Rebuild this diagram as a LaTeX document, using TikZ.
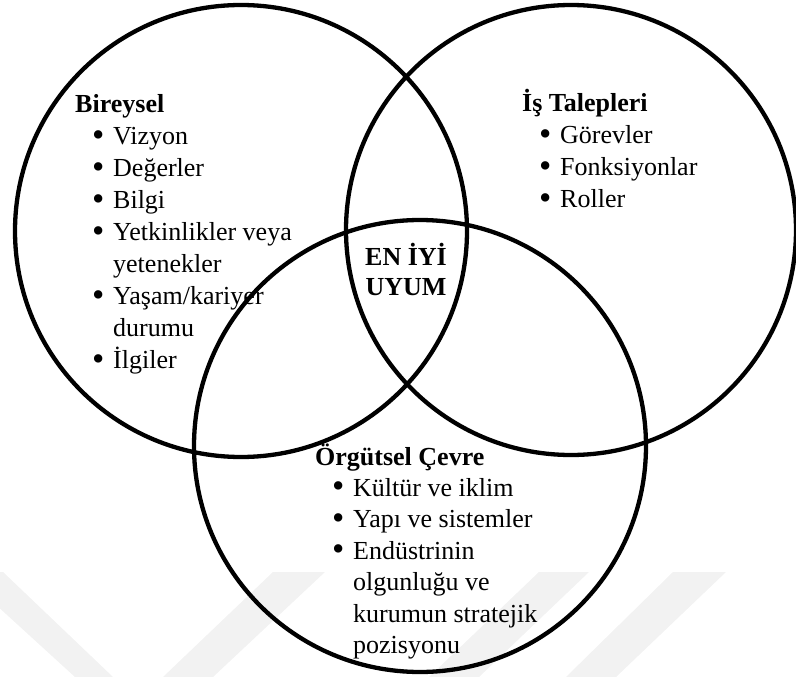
\documentclass[tikz,border=0pt]{standalone}
\usepackage{fontspec}
\setmainfont{Liberation Serif}
% bullet mark, bullet line and continuation line inside a text block
\newcommand\dotmark{\smash{\raisebox{-0.05em}{\scalebox{1.35}{\textbullet}}}}
\newcommand\bitem{\makebox[38pt][l]{\hspace*{17pt}\dotmark}}
\newcommand\bcont{\hspace*{38pt}}
\begin{document}
\begin{tikzpicture}[x=1pt,y=-1pt,
  ring/.style={line width=4.3pt},
  band/.style={fill=black!5,draw=none},
  block/.style={anchor=base west,inner sep=0pt,font=\fontsize{26}{32}\selectfont},
  core/.style={anchor=base,inner sep=0pt,font=\bfseries\fontsize{26}{30}\selectfont}]
\useasboundingbox (0,0) rectangle (796,677);

% faint background stripes
\fill[band] (-40,572) -- (3,572) -- (113,677) -- (75,677) -- cycle;
\fill[band] (273,572) -- (325,572) -- (213,677) -- (163,677) -- cycle;
\fill[band] (539,572) -- (589,572) -- (479,677) -- (429,677) -- cycle;
\fill[band] (673,572) -- (726,572) -- (616,677) -- (566,677) -- cycle;

% circle centres
\coordinate (cL) at (241,231);
\coordinate (cR) at (571,230);
\coordinate (cB) at (420,446);

\draw[ring] (cL) circle[radius=226];
\draw[ring] (cR) circle[radius=225];
\draw[ring] (cB) circle[radius=226];

\node[block] (bireysel) at (75,113) {\begin{tabular}[t]{@{}l@{}}
\textbf{Bireysel}\\
\bitem Vizyon\\
\bitem Değerler\\
\bitem Bilgi\\
\bitem Yetkinlikler veya\\
\bcont yetenekler\\
\bitem Yaşam/kariyer\\
\bcont durumu\\
\bitem İlgiler
\end{tabular}};

\node[block] (is) at (522,112) {\begin{tabular}[t]{@{}l@{}}
\textbf{İş Talepleri}\\
\bitem Görevler\\
\bitem Fonksiyonlar\\
\bitem Roller
\end{tabular}};

\node[block,font=\fontsize{26}{31.4}\selectfont] (orgutsel) at (315,465) {\begin{tabular}[t]{@{}l@{}}
\textbf{Örgütsel Çevre}\\
\bitem Kültür ve iklim\\
\bitem Yapı ve sistemler\\
\bitem Endüstrinin\\
\bcont olgunluğu ve\\
\bcont kurumun stratejik\\
\bcont pozisyonu
\end{tabular}};

\node[core] (uyum) at (406,265) {\begin{tabular}[t]{@{}c@{}}
EN İYİ\\
UYUM
\end{tabular}};
\end{tikzpicture}
\end{document}
